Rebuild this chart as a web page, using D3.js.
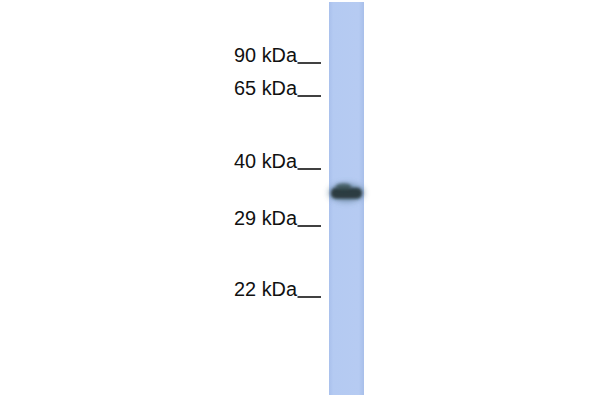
<!DOCTYPE html>
<html><head><meta charset="utf-8">
<script src="https://cdn.jsdelivr.net/npm/d3@7"></script>
<style>body{margin:0;background:#fff}svg{display:block}</style>
</head><body>
<script>
const markers = [90, 65, 40, 29, 22];
const markerLabels = ["90 kDa", "65 kDa", "40 kDa", "29 kDa", "22 kDa"];
const bands = [{mass: 35, intensity: 1}];

const W = 600, H = 400;
const svg = d3.select("body").append("svg").attr("width", W).attr("height", H);

// piecewise log scale for molecular weight -> vertical position
const y = d3.scaleLog().domain(markers).range([63, 96, 169, 226, 297]);
const x = d3.scaleBand().domain(["lane1"]).range([329, 364]).padding(0);

const defs = svg.append("defs");
const g = defs.append("linearGradient").attr("id", "laneGrad").attr("x1", 0).attr("x2", 1);
g.append("stop").attr("offset", 0).attr("stop-color", "#a9c0ec");
g.append("stop").attr("offset", 0.12).attr("stop-color", "#b4caf2");
g.append("stop").attr("offset", 0.85).attr("stop-color", "#b6cbf2");
g.append("stop").attr("offset", 1).attr("stop-color", "#a8bfea");
defs.append("filter").attr("id", "blur").attr("x", -0.3).attr("y", -1).attr("width", 1.6).attr("height", 3)
  .append("feGaussianBlur").attr("stdDeviation", 3);
defs.append("filter").attr("id", "blur2").attr("x", -0.3).attr("y", -1).attr("width", 1.6).attr("height", 3)
  .append("feGaussianBlur").attr("stdDeviation", 1.8);

// lane
svg.append("rect").attr("x", x("lane1")).attr("y", 2)
  .attr("width", x.bandwidth()).attr("height", 393).attr("fill", "url(#laneGrad)");

// bands
const bg = svg.append("g");
bands.forEach(b => {
  const cy = y(b.mass);
  const cx = x("lane1") + x.bandwidth() / 2;
  bg.append("ellipse").attr("cx", cx).attr("cy", cy)
    .attr("rx", x.bandwidth() / 2).attr("ry", 9)
    .attr("fill", "#5f7f98").attr("opacity", 0.75 * b.intensity).attr("filter", "url(#blur)");
  bg.append("rect").attr("x", x("lane1") + 2).attr("y", cy - 5)
    .attr("width", x.bandwidth() - 4).attr("height", 11).attr("rx", 5)
    .attr("fill", "#253538").attr("opacity", 0.92 * b.intensity).attr("filter", "url(#blur2)");
  bg.append("ellipse").attr("cx", cx - 3).attr("cy", cy - 6)
    .attr("rx", 8).attr("ry", 3.5)
    .attr("fill", "#33484a").attr("opacity", 0.7 * b.intensity).attr("filter", "url(#blur2)");
});

// marker labels
const mg = svg.append("g");
markers.forEach((m, i) => {
  const yy = y(m);
  mg.append("text").attr("x", 297).attr("y", yy - 1.5)
    .attr("text-anchor", "end")
    .attr("font-family", "Liberation Sans, Arial, sans-serif")
    .attr("font-size", 19.5).attr("fill", "#111")
    .attr("textLength", 63).attr("lengthAdjust", "spacingAndGlyphs")
    .text(markerLabels[i]);
  mg.append("line").attr("x1", 297.5).attr("x2", 321).attr("y1", yy).attr("y2", yy)
    .attr("stroke", "#111").attr("stroke-width", 1.6);
});
</script>
</body></html>
